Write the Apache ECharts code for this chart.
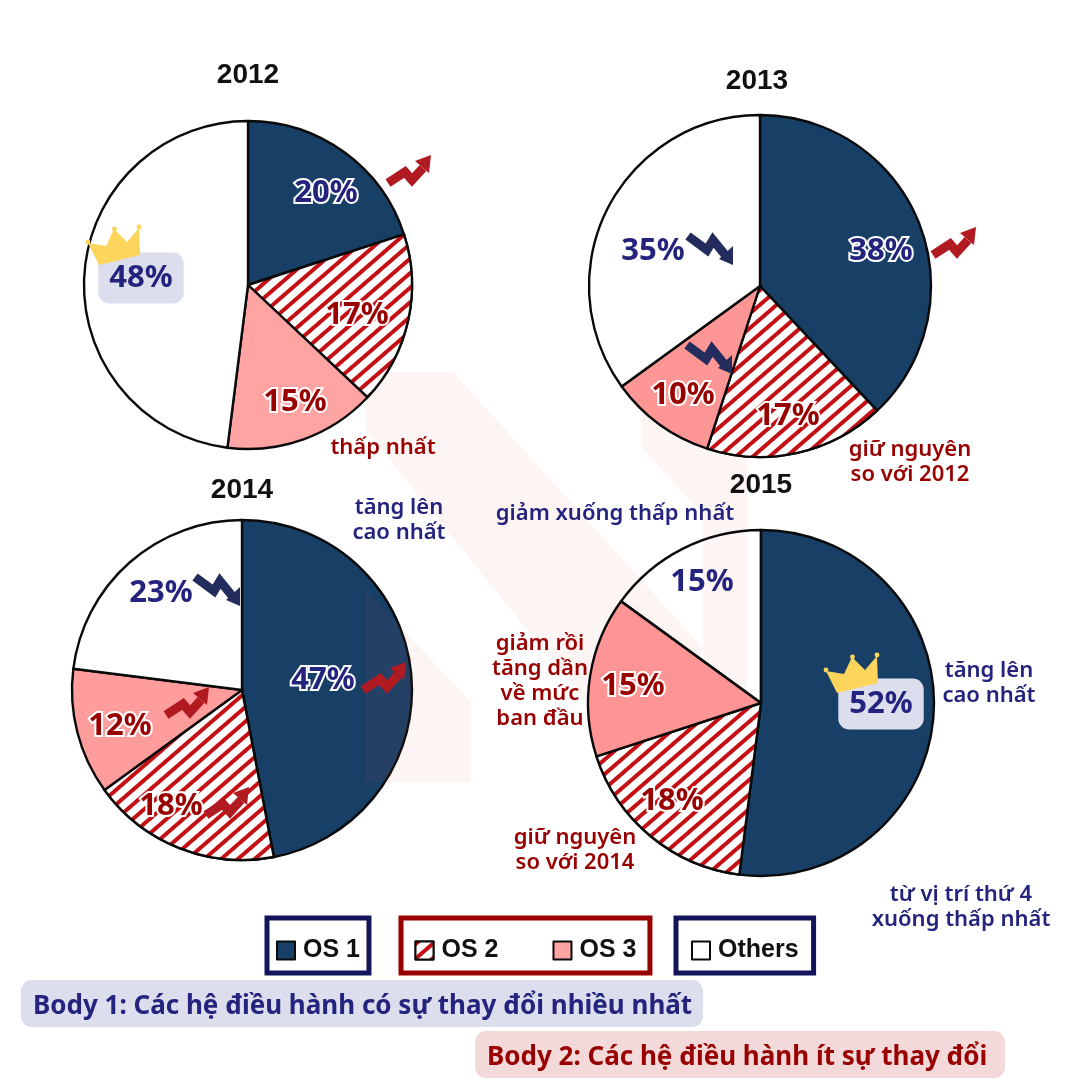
<!DOCTYPE html>
<html><head><meta charset="utf-8">
<style>html,body{margin:0;padding:0;background:#fff}#c{width:1080px;height:1080px}</style>
<script src="https://cdn.jsdelivr.net/npm/echarts@6/dist/echarts.min.js"></script>
</head><body><div id="c"></div>
<script>
const categories = ['OS 1', 'OS 2', 'OS 3', 'Others'];
const years = ['2012', '2013', '2014', '2015'];
const values2012 = [20, 17, 15, 48];
const values2013 = [38, 17, 10, 35];
const values2014 = [47, 18, 12, 23];
const values2015 = [52, 18, 15, 15];
const allValues = [values2012, values2013, values2014, values2015];

// layout
const centers = [[248, 285], [760, 286], [242, 690], [761, 703]];
const radii = [164, 171, 170, 173];
const titleSpots = [[248, 61], [757, 67], [242, 476], [761, 471]];
const labelSpots = [
  [[326, 193], [357, 315], [295, 402], [141, 278]],
  [[881, 251], [788, 416], [683, 395], [653, 251]],
  [[323, 680], [171, 806], [120, 726], [161, 593]],
  [[881, 704], [672, 801], [633, 686], [702, 582]]
];
const os3Colors = ['#ffa3a3', '#ff9696', '#ff9d9d', '#ff9494'];
const NAVY = '#24247e', RED = '#990000', FONT = '"Noto Sans"';
const notes = [
  ['thấp nhất', 383, 448, RED],
  ['giữ nguyên\nso với 2012', 910, 462, RED],
  ['tăng lên\ncao nhất', 399, 520, NAVY],
  ['giảm xuống thấp nhất', 615, 514, NAVY],
  ['giảm rồi\ntăng dần\nvề mức\nban đầu', 540, 681, RED],
  ['tăng lên\ncao nhất', 989, 683, NAVY],
  ['giữ nguyên\nso với 2014', 575, 850, RED],
  ['từ vị trí thứ 4\nxuống thấp nhất', 961, 907, NAVY]
];
const upArrows = [[385, 183], [930, 255], [360, 690], [163, 715], [203, 815]];
const downArrows = [[685, 234], [684, 343], [192, 575]];
const crowns = [[0, 0], [738, 428]];

const hatch = {symbol: 'rect', symbolSize: 1, color: '#c40f14', backgroundColor: '#fff',
  dashArrayX: [[1, 0]], dashArrayY: [3.2, 6.6], rotation: -Math.PI / 4.4};

function sliceLabel(pie, i) {
  const v = {show: true, position: 'inside', formatter: '{c}%', fontFamily: FONT, fontWeight: 700, fontSize: 31,
    color: i < 1 || i === 3 ? NAVY : RED, textBorderColor: '#fff', textBorderWidth: 4};
  if (i === 3) v.textBorderWidth = 0;
  const badge = (pie === 0 && i === 3) || (pie === 3 && i === 0);
  if (badge) {
    v.textBorderWidth = 0; v.backgroundColor = '#dcdded'; v.borderRadius = 11;
    v.padding = [14, 11, 6, 11];
  }
  return v;
}

const series = allValues.map((vals, p) => ({
  type: 'pie', z: 2, silent: true, animation: false, center: centers[p], radius: [0, radii[p]],
  startAngle: 90, clockwise: true, labelLine: {show: false}, avoidLabelOverlap: false,
  itemStyle: {borderColor: '#0a0a0a', borderWidth: 2.4},
  emphasis: {disabled: true},
  labelLayout: params => {
    const s = labelSpots[p][params.dataIndex];
    return {x: s[0], y: s[1], align: 'center', verticalAlign: 'middle'};
  },
  data: vals.map((v, i) => ({
    name: categories[i], value: v, label: sliceLabel(p, i),
    itemStyle: i === 0 ? {color: '#183f66'}
      : i === 1 ? {color: '#fff', decal: hatch}
      : i === 2 ? {color: os3Colors[p]}
      : {color: p === 3 ? 'rgba(255,255,255,0)' : '#fff'}
  }))
}));

const BAND = 'rgba(230,90,90,0.065)';
const graphics = [
  {type: 'polygon', z: 0, silent: true, shape: {points: [[366, 372], [453, 372], [703, 648], [640, 770], [366, 430]]}, style: {fill: BAND}},
  {type: 'polygon', z: 0, silent: true, shape: {points: [[642, 400], [642, 448], [703, 515], [703, 800], [747, 800], [747, 400]]}, style: {fill: BAND}},
  {type: 'polygon', z: 3, silent: true, shape: {points: [[366, 590], [471, 702], [471, 782], [366, 782]]}, style: {fill: BAND}}
];
notes.forEach(n => graphics.push({type: 'text', z: 12, silent: true, x: n[1], y: n[2],
  style: {text: n[0], fill: n[3], font: '600 22px ' + FONT, align: 'center', verticalAlign: 'middle', lineHeight: 25}}));
upArrows.forEach(a => graphics.push(
  {type: 'polyline', z: 10, silent: true, x: a[0], y: a[1], shape: {points: [[3, 0], [20, -11], [27, -3], [38, -15]]},
   style: {stroke: '#b01a20', fill: 'none', lineWidth: 9, lineJoin: 'miter'}},
  {type: 'polygon', z: 10, silent: true, x: a[0], y: a[1], shape: {points: [[46, -28], [30, -22], [44, -10]]}, style: {fill: '#b01a20'}}
));
downArrows.forEach(a => graphics.push(
  {type: 'polyline', z: 10, silent: true, x: a[0], y: a[1], shape: {points: [[3, 2], [22, 16], [28, 6], [41, 22]]},
   style: {stroke: '#232c5c', fill: 'none', lineWidth: 9, lineJoin: 'miter'}},
  {type: 'polygon', z: 10, silent: true, x: a[0], y: a[1], shape: {points: [[48, 31], [34, 25], [48, 12]]}, style: {fill: '#232c5c'}}
));
crowns.forEach(c => {
  graphics.push({type: 'polygon', z: 10, silent: true, x: c[0], y: c[1],
    shape: {points: [[88, 243], [106, 246], [114, 229], [127, 242], [139, 228], [140, 255], [99, 265]]},
    style: {fill: '#fdd45c'}});
  [[88, 242], [114.5, 229], [139, 227]].forEach(b => graphics.push({type: 'circle', z: 10, silent: true, x: c[0], y: c[1],
    shape: {cx: b[0], cy: b[1], r: 2.4}, style: {fill: '#fdd45c'}}));
});
graphics.push(
  {type: 'rect', z: 1, silent: true, shape: {x: 21, y: 980, width: 682, height: 47, r: 11}, style: {fill: '#dcdded'}},
  {type: 'rect', z: 1, silent: true, shape: {x: 475, y: 1031, width: 530, height: 47, r: 11}, style: {fill: '#f3d9d9'}},
  {type: 'text', z: 12, silent: true, x: 33, y: 1007, style: {text: 'Body 1: Các hệ điều hành có sự thay đổi nhiều nhất', fill: NAVY, font: '700 26px ' + FONT, verticalAlign: 'middle'}},
  {type: 'text', z: 12, silent: true, x: 487, y: 1058, style: {text: 'Body 2: Các hệ điều hành ít sự thay đổi', fill: RED, font: '700 26px ' + FONT, verticalAlign: 'middle'}}
);

const legendBase = {orient: 'horizontal', selectedMode: false, icon: 'rect', itemWidth: 18, itemHeight: 18, borderWidth: 5, backgroundColor: '#fff',
  textStyle: {fontFamily: '"Liberation Sans"', fontWeight: 'bold', fontSize: 25, color: '#111', padding: [0, 0, 0, 3]},
  itemStyle: {borderColor: '#0a0a0a', borderWidth: 2}, top: 918};

const option = {
  animation: false, backgroundColor: '#fff',
  title: years.map((y, i) => ({text: y, left: titleSpots[i][0], top: titleSpots[i][1], textAlign: 'center', padding: 0,
    textStyle: {fontFamily: '"Liberation Sans"', fontWeight: 'bold', fontSize: 28, color: '#111'}})),
  legend: [
    Object.assign({}, legendBase, {data: ['OS 1'], left: 267, padding: [20, 9, 10, 9], borderColor: '#14145a'}),
    Object.assign({}, legendBase, {data: ['OS 2', 'OS 3'], left: 401, itemGap: 54, padding: [20, 13.5, 10, 13.5], borderColor: RED}),
    Object.assign({}, legendBase, {data: ['Others'], left: 676, padding: [20, 15, 10, 15], borderColor: '#14145a'})
  ],
  series, graphic: {elements: graphics}
};
echarts.init(document.getElementById('c'), null, {renderer: 'canvas'}).setOption(option);
</script></body></html>
